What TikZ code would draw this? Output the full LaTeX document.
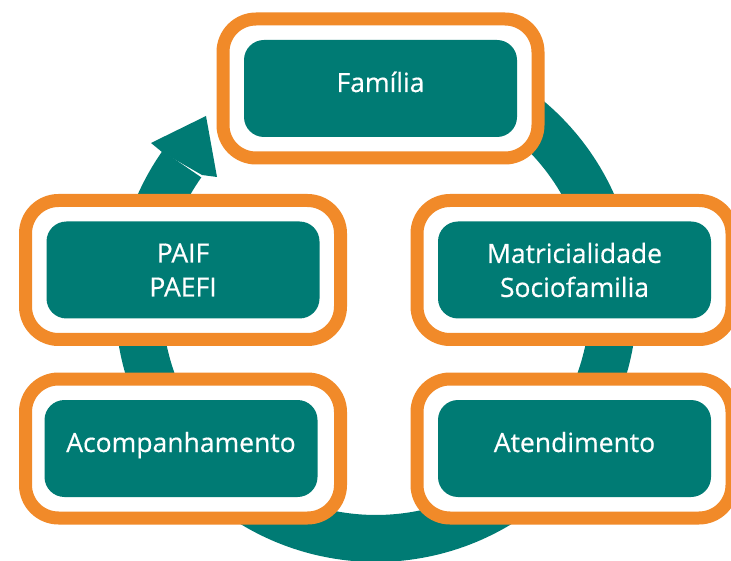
\documentclass[tikz,border=0pt]{standalone}
\usepackage{fontspec}
\setmainfont{Open Sans}
\newfontfamily\cardfont{Open Sans}[FakeBold=0.5]
\definecolor{ringteal}{RGB}{0,123,116}
\definecolor{frameorange}{RGB}{241,138,41}
\begin{document}
\begin{tikzpicture}[x=1pt,y=-1pt,
  orangeframe/.style={draw=frameorange, line width=13pt, fill=white, rounded corners=33pt,
    minimum width=315pt, minimum height=139pt, inner sep=0pt, outer sep=0pt},
  tealcard/.style={fill=ringteal, rounded corners=20pt, minimum width=273pt, minimum height=97pt,
    inner sep=0pt, outer sep=0pt, text=white, font=\cardfont\fontsize{26.5}{34}\selectfont, align=center},
  oneline/.style={text height=12pt, text depth=5pt},
  ringband/.style={draw=ringteal, line width=47pt},
  ringhead/.style={fill=ringteal, draw=none}
  ]
\useasboundingbox (0,0) rectangle (731,561);
\fill[white] (0,0) rectangle (731,561);
% circular arrow behind the boxes
\draw[ringband] plot[domain=144.8:475, samples=240] ({376+237.5*cos(\x)},{301-237.5*sin(\x)});
\coordinate (notchL) at (162,152);
\coordinate (barbL) at (151,143);
\coordinate (tip) at (206,116);
\coordinate (barbR) at (217,177);
\coordinate (notchR) at (202,175);
\fill[ringhead] (notchL) -- (barbL) -- (tip) -- (barbR) -- (notchR) -- cycle;
% frames
\node[orangeframe] (frameFam) at (380.5,88.5) {};
\node[orangeframe] (framePaif) at (183,270) {};
\node[orangeframe] (frameMat) at (574.5,270) {};
\node[orangeframe] (frameAcomp) at (183,448.5) {};
\node[orangeframe] (frameAtend) at (574.5,448.5) {};
% cards
\node[tealcard, oneline] (familia) at (380.5,88.5) {Família};
\node[tealcard] (paif) at (183,270) {PAIF\\PAEFI};
\node[tealcard] (matric) at (574.5,270) {Matricialidade\\Sociofamilia};
\node[tealcard, oneline] (acomp) at (181,448.5) {Acompanhamento};
\node[tealcard, oneline] (atend) at (574.5,448.5) {Atendimento};
\end{tikzpicture}
\end{document}
